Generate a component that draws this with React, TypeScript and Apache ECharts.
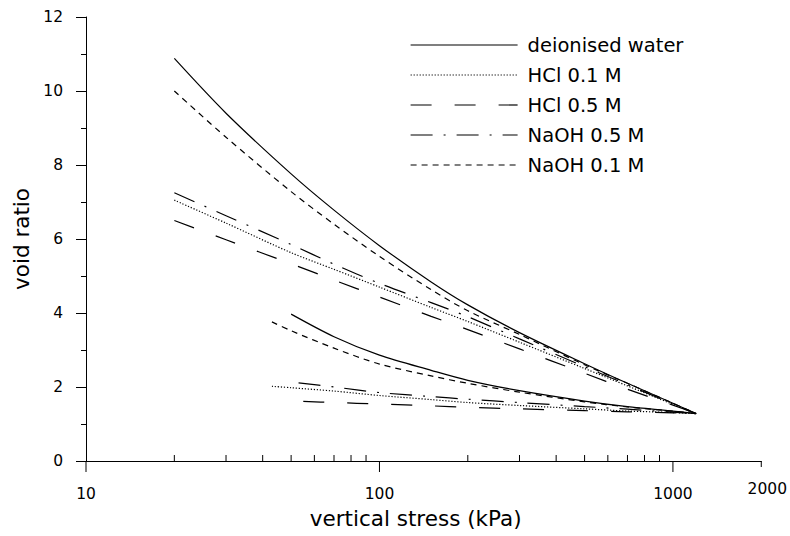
import React, { useEffect, useRef } from "react";
import * as echarts from "echarts";

// ---- data ----
const loadStress = [20, 30, 50, 70, 100, 150, 200, 300, 500, 700, 1000, 1200];

const waterLoad = [10.88, 9.4, 7.76, 6.78, 5.82, 4.84, 4.22, 3.47, 2.63, 2.1, 1.56, 1.28];
const hcl01Load = [7.05, 6.43, 5.63, 5.18, 4.7, 4.15, 3.77, 3.21, 2.5, 2.03, 1.53, 1.28];
const hcl05Load = [6.5, 5.98, 5.33, 4.89, 4.43, 3.91, 3.55, 3.03, 2.37, 1.94, 1.51, 1.28];
const naoh05Load = [7.25, 6.63, 5.85, 5.32, 4.8, 4.28, 3.9, 3.3, 2.55, 2.06, 1.54, 1.28];
const naoh01Load = [10.0, 8.75, 7.28, 6.4, 5.53, 4.63, 4.06, 3.42, 2.6, 2.1, 1.56, 1.28];

const waterUnloadStress = [50, 70, 100, 150, 200, 300, 500, 700, 1000, 1200];
const waterUnload = [3.97, 3.36, 2.86, 2.45, 2.18, 1.9, 1.62, 1.47, 1.35, 1.28];
const hcl01UnloadStress = [43, 50, 70, 100, 150, 200, 300, 500, 700, 1000, 1200];
const hcl01Unload = [2.02, 1.98, 1.89, 1.77, 1.66, 1.58, 1.5, 1.41, 1.35, 1.31, 1.28];
const hcl05UnloadStress = [55, 70, 100, 150, 200, 300, 500, 700, 1000, 1200];
const hcl05Unload = [1.61, 1.58, 1.54, 1.49, 1.45, 1.41, 1.36, 1.33, 1.3, 1.28];
const naoh05UnloadStress = [53, 70, 100, 150, 200, 300, 500, 700, 1000, 1200];
const naoh05Unload = [2.11, 2.0, 1.85, 1.74, 1.67, 1.58, 1.47, 1.4, 1.32, 1.28];
const naoh01UnloadStress = [43, 50, 70, 100, 150, 200, 300, 500, 700, 1000, 1200];
const naoh01Unload = [3.76, 3.52, 3.05, 2.62, 2.3, 2.1, 1.86, 1.6, 1.46, 1.35, 1.28];

const seriesNames = ["deionised water", "HCl 0.1 M", "HCl 0.5 M", "NaOH 0.5 M", "NaOH 0.1 M"];

const majorTicks = [10, 100, 1000];
const minorTicks = [20, 30, 40, 50, 60, 70, 80, 90, 200, 300, 400, 500, 600, 700, 800, 900];
const endTicks = [2000];

const FONT = "DejaVu Sans";

const pairs = (xs: number[], ys: number[]) => xs.map((x, i) => [x, ys[i]]);

export default function App() {
  const ref = useRef<HTMLDivElement>(null);

  useEffect(() => {
    const chart = echarts.init(ref.current!, null, { renderer: "svg" });

    const defs = [
      { name: seriesNames[0], load: waterLoad, us: waterUnloadStress, un: waterUnload, type: "solid" as any },
      { name: seriesNames[1], load: hcl01Load, us: hcl01UnloadStress, un: hcl01Unload, type: [1.2, 1.8] },
      { name: seriesNames[2], load: hcl05Load, us: hcl05UnloadStress, un: hcl05Unload, type: [21, 23] },
      { name: seriesNames[3], load: naoh05Load, us: naoh05UnloadStress, un: naoh05Unload, type: [22, 11, 2, 11] },
      { name: seriesNames[4], load: naoh01Load, us: naoh01UnloadStress, un: naoh01Unload, type: [6, 5] },
    ];

    const lineSeries: any[] = [];
    defs.forEach((d) => {
      const base = {
        type: "line",
        name: d.name,
        symbol: "none",
        smooth: 0.3,
        lineStyle: { color: "#000", width: 1.2, type: d.type },
        itemStyle: { color: "#000" },
        z: 3,
      };
      lineSeries.push({ ...base, data: pairs(loadStress, d.load) });
      lineSeries.push({ ...base, data: pairs(d.us, d.un) });
    });

    const tickSeries = (name: string, vals: number[], len: number) => ({
      type: "custom",
      name,
      silent: true,
      clip: false,
      z: 10,
      encode: { x: 0, y: 1 },
      data: vals.map((v) => [v, 0]),
      renderItem: (_p: any, api: any) => {
        const pt = api.coord([api.value(0), api.value(1)]);
        return {
          type: "line",
          shape: { x1: pt[0], y1: pt[1], x2: pt[0], y2: pt[1] + len },
          style: { stroke: "#000", lineWidth: 1 },
        };
      },
    });

    const option: any = {
      animation: false,
      backgroundColor: "#fff",
      textStyle: { fontFamily: FONT, color: "#000" },
      grid: { left: 86, right: 28, top: 17, bottom: 75 },
      legend: {
        data: seriesNames,
        orient: "vertical",
        left: 410,
        top: 35,
        padding: 0,
        itemWidth: 107,
        itemHeight: 20,
        itemGap: 10,
        selectedMode: false,
        itemStyle: { opacity: 0, borderWidth: 0 },
        lineStyle: { width: 1.2, color: "#000" },
        textStyle: { fontFamily: FONT, fontSize: 19.5, color: "#000", lineHeight: 20, padding: [0, 0, 0, 5] },
      },
      xAxis: {
        type: "log",
        logBase: 10,
        min: 10,
        max: 2000,
        name: "vertical stress (kPa)",
        nameLocation: "middle",
        nameGap: 46,
        nameTextStyle: { fontFamily: FONT, fontSize: 21.5, color: "#000", padding: [0, 16, 0, 0] },
        axisLine: { show: true, onZero: false, lineStyle: { color: "#000", width: 1 } },
        axisTick: { show: false },
        splitLine: { show: false },
        axisLabel: {
          show: true,
          showMinLabel: true,
          showMaxLabel: true,
          margin: 25,
          fontFamily: FONT,
          fontSize: 15.5,
          color: "#000",
          formatter: (v: number) => {
            const n = Math.round(v);
            return n === 2000 ? "{e|2000}" : String(n);
          },
          rich: {
            e: { fontFamily: FONT, fontSize: 15.5, color: "#000", lineHeight: 6, padding: [0, 0, 0, 12] },
          },
        },
      },
      yAxis: {
        type: "value",
        min: 0,
        max: 12,
        interval: 2,
        name: "void ratio",
        nameLocation: "middle",
        nameGap: 52,
        nameTextStyle: { fontFamily: FONT, fontSize: 21.5, color: "#000" },
        axisLine: { show: true, onZero: false, lineStyle: { color: "#000", width: 1 } },
        axisTick: { show: true, length: 10, lineStyle: { color: "#000", width: 1 } },
        minorTick: { show: true, splitNumber: 2, length: 5, lineStyle: { color: "#000", width: 1 } },
        splitLine: { show: false },
        minorSplitLine: { show: false },
        axisLabel: { margin: 23, fontFamily: FONT, fontSize: 15.5, color: "#000" },
      },
      series: [
        ...lineSeries,
        tickSeries("majorTicks", majorTicks, 11),
        tickSeries("minorTicks", minorTicks, -6),
        tickSeries("endTicks", endTicks, 6),
      ],
    };

    chart.setOption(option);
    return () => chart.dispose();
  }, []);

  return (
    <div
      ref={ref}
      style={{ position: "absolute", left: 0, top: 0, width: 790, height: 536 }}
    />
  );
}
